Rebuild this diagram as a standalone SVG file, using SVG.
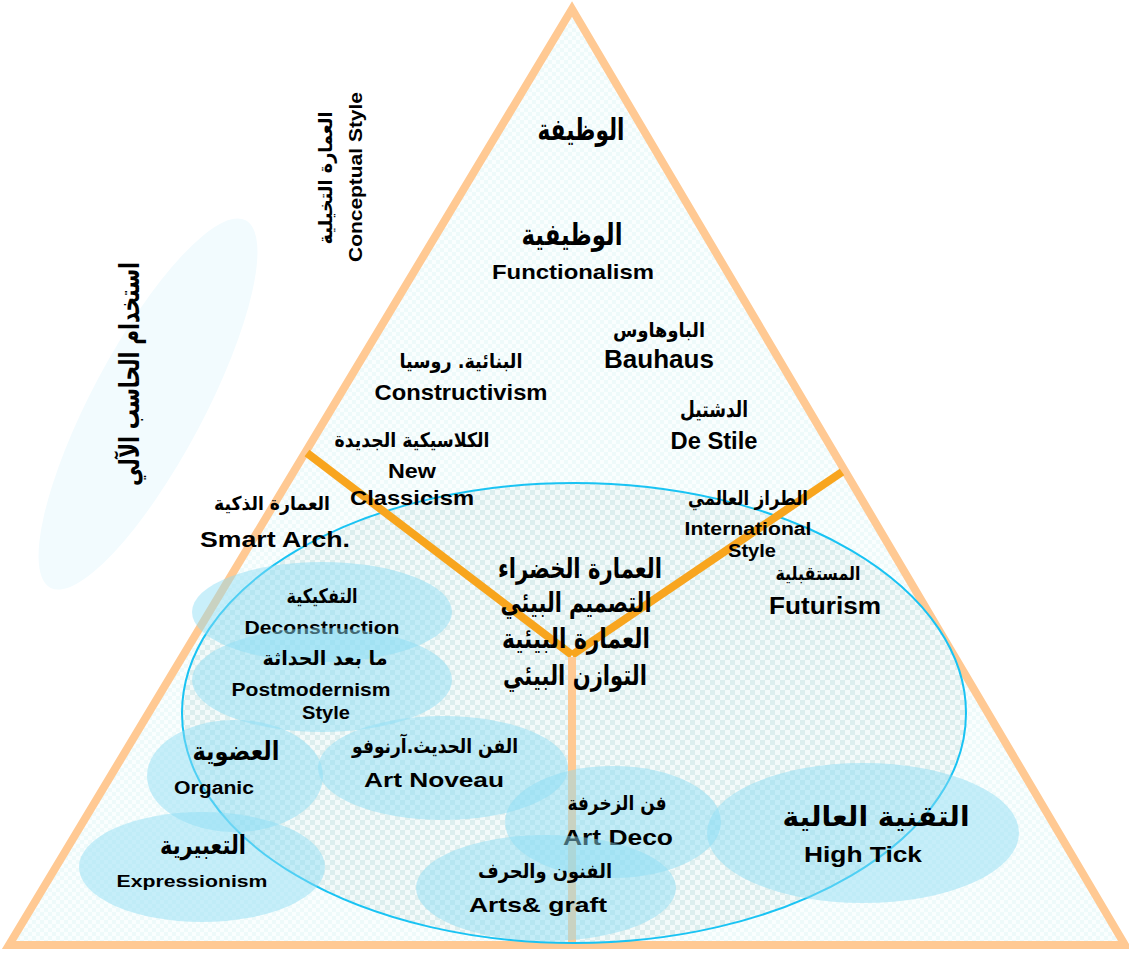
<svg xmlns="http://www.w3.org/2000/svg" width="1129" height="953" viewBox="0 0 1129 953">
<defs>
<pattern id="chkTri" width="8" height="8" patternUnits="userSpaceOnUse"><rect width="8" height="8" fill="#FAFEFE"/><rect width="4" height="4" fill="#EEFAFA"/><rect x="4" y="4" width="4" height="4" fill="#EEFAFA"/></pattern>
<pattern id="chkBig" width="10" height="10" patternUnits="userSpaceOnUse"><rect width="10" height="10" fill="#F3FAFA"/><rect width="5" height="5" fill="#DCEEEE"/><rect x="5" y="5" width="5" height="5" fill="#DCEEEE"/></pattern>
<style>
text{font-family:"Liberation Sans","DejaVu Sans",Arial,sans-serif;font-weight:bold;fill:#000;text-anchor:middle}
.bub{fill:#8CDCF5;fill-opacity:0.47;stroke:none}
.ar{font-family:"DejaVu Sans","Liberation Sans",sans-serif}
</style>
</defs>
<rect width="1129" height="953" fill="#FFFFFF"/>
<g id="computer-zone">
<ellipse cx="148" cy="404" rx="208" ry="56" transform="rotate(-62 148 404)" fill="#F2FBFE"/>
<text class="ar" transform="translate(139,374) rotate(-90)" font-size="28" textLength="224" lengthAdjust="spacingAndGlyphs">استخدام الحاسب الآلي</text>
</g>
<g id="triangle">
<polygon points="572,9 9,945 1125,945" fill="url(#chkTri)" stroke="#FFC993" stroke-width="8" stroke-linejoin="miter"/>
</g>
<g id="conceptual">
<text class="ar" transform="translate(332,178) rotate(-90)" font-size="19" textLength="133" lengthAdjust="spacingAndGlyphs">العمارة التخيلية</text>
<text transform="translate(362,177) rotate(-90)" font-size="18" textLength="170" lengthAdjust="spacingAndGlyphs">Conceptual Style</text>
</g>
<g id="green-arch-zone">
<ellipse cx="574" cy="713" rx="392" ry="230" fill="url(#chkBig)" stroke="#19C3F3" stroke-width="2"/>
</g>
<g id="connectors">
<line x1="307" y1="453" x2="572" y2="655" stroke="#F8A51E" stroke-width="8"/>
<line x1="842" y1="472" x2="572" y2="655" stroke="#F8A51E" stroke-width="8"/>
<line x1="572" y1="657" x2="572" y2="942" stroke="#FFC993" stroke-width="8"/>
</g>
<g id="function-top"><text class="ar" x="581" y="140" font-size="30" textLength="87" lengthAdjust="spacingAndGlyphs">الوظيفة</text></g>
<g id="functionalism">
<text class="ar" x="572" y="245" font-size="30" textLength="101" lengthAdjust="spacingAndGlyphs">الوظيفية</text>
<text x="573" y="279" font-size="21" textLength="162" lengthAdjust="spacingAndGlyphs">Functionalism</text>
</g>
<g id="bauhaus">
<text class="ar" x="659" y="337" font-size="20" textLength="92" lengthAdjust="spacingAndGlyphs">الباوهاوس</text>
<text x="659" y="368" font-size="25" textLength="110" lengthAdjust="spacingAndGlyphs">Bauhaus</text>
</g>
<g id="constructivism">
<text class="ar" x="461" y="368" font-size="20" textLength="123" lengthAdjust="spacingAndGlyphs">البنائية. روسيا</text>
<text x="461" y="400" font-size="22" textLength="173" lengthAdjust="spacingAndGlyphs">Constructivism</text>
</g>
<g id="destile">
<text class="ar" x="714" y="417" font-size="22" textLength="68" lengthAdjust="spacingAndGlyphs">الدشتيل</text>
<text x="714" y="449" font-size="23" textLength="87" lengthAdjust="spacingAndGlyphs">De Stile</text>
</g>
<g id="newclassicism">
<text class="ar" x="412" y="447" font-size="20" textLength="155" lengthAdjust="spacingAndGlyphs">الكلاسيكية الجديدة</text>
<text x="412" y="478" font-size="20" textLength="48" lengthAdjust="spacingAndGlyphs">New</text>
<text x="412" y="505" font-size="20" textLength="124" lengthAdjust="spacingAndGlyphs">Classicism</text>
</g>
<g id="smartarch">
<text class="ar" x="272" y="510" font-size="19" textLength="116" lengthAdjust="spacingAndGlyphs">العمارة الذكية</text>
<text x="275" y="547" font-size="22" textLength="150" lengthAdjust="spacingAndGlyphs">Smart Arch.</text>
</g>
<g id="international">
<text class="ar" x="748" y="505" font-size="20" textLength="120" lengthAdjust="spacingAndGlyphs">الطراز العالمي</text>
<text x="748" y="535" font-size="18" textLength="127" lengthAdjust="spacingAndGlyphs">International</text>
<text x="752" y="557" font-size="18" textLength="48" lengthAdjust="spacingAndGlyphs">Style</text>
</g>
<g id="futurism">
<text class="ar" x="818" y="580" font-size="19" textLength="85" lengthAdjust="spacingAndGlyphs">المستقبلية</text>
<text x="825" y="614" font-size="23" textLength="112" lengthAdjust="spacingAndGlyphs">Futurism</text>
</g>
<g id="green-arch">
<text class="ar" x="580" y="578" font-size="28" textLength="164" lengthAdjust="spacingAndGlyphs">العمارة الخضراء</text>
<text class="ar" x="576" y="612" font-size="28" textLength="151" lengthAdjust="spacingAndGlyphs">التصميم البيئي</text>
<text class="ar" x="576" y="648" font-size="28" textLength="148" lengthAdjust="spacingAndGlyphs">العمارة البيئية</text>
<text class="ar" x="575" y="685" font-size="28" textLength="144" lengthAdjust="spacingAndGlyphs">التوازن البيئي</text>
</g>
<g id="deconstruction">
<ellipse class="bub" cx="322" cy="612" rx="130" ry="50"/>
<text class="ar" x="322" y="603" font-size="20" textLength="71" lengthAdjust="spacingAndGlyphs">التفكيكية</text>
<text x="322" y="634" font-size="18" textLength="155" lengthAdjust="spacingAndGlyphs">Deconstruction</text>
</g>
<g id="postmodernism">
<ellipse class="bub" cx="322" cy="680" rx="130" ry="52"/>
<text class="ar" x="325" y="665" font-size="20" textLength="125" lengthAdjust="spacingAndGlyphs">ما بعد الحداثة</text>
<text x="311" y="696" font-size="18" textLength="159" lengthAdjust="spacingAndGlyphs">Postmodernism</text>
<text x="326" y="719" font-size="18" textLength="48" lengthAdjust="spacingAndGlyphs">Style</text>
</g>
<g id="organic">
<ellipse class="bub" cx="235" cy="776" rx="88" ry="56"/>
<text class="ar" x="236" y="760" font-size="26" textLength="87" lengthAdjust="spacingAndGlyphs">العضوية</text>
<text x="214" y="794" font-size="18" textLength="80" lengthAdjust="spacingAndGlyphs">Organic</text>
</g>
<g id="artnoveau">
<ellipse class="bub" cx="443" cy="768" rx="125" ry="52"/>
<text class="ar" x="435" y="753" font-size="20" textLength="166" lengthAdjust="spacingAndGlyphs">الفن الحديث.آرنوفو</text>
<text x="434" y="787" font-size="21" textLength="140" lengthAdjust="spacingAndGlyphs">Art Noveau</text>
</g>
<g id="expressionism">
<ellipse class="bub" cx="202" cy="867" rx="123" ry="55"/>
<text class="ar" x="203" y="854" font-size="26" textLength="86" lengthAdjust="spacingAndGlyphs">التعبيرية</text>
<text x="192" y="887" font-size="17" textLength="151" lengthAdjust="spacingAndGlyphs">Expressionism</text>
</g>
<g id="artdeco">
<ellipse class="bub" cx="613" cy="822" rx="108" ry="56"/>
<text class="ar" x="617" y="810" font-size="20" textLength="99" lengthAdjust="spacingAndGlyphs">فن الزخرفة</text>
<text x="618" y="845" font-size="22" textLength="110" lengthAdjust="spacingAndGlyphs">Art Deco</text>
</g>
<g id="artsgraft">
<ellipse class="bub" cx="546" cy="888" rx="130" ry="53"/>
<text class="ar" x="545" y="878" font-size="20" textLength="134" lengthAdjust="spacingAndGlyphs">الفنون والحرف</text>
<text x="538" y="912" font-size="21" textLength="138" lengthAdjust="spacingAndGlyphs">Arts&amp; graft</text>
</g>
<g id="hightech">
<ellipse class="bub" cx="863" cy="833" rx="156" ry="70" fill-opacity="0.38"/>
<text class="ar" x="876" y="826" font-size="28" textLength="187" lengthAdjust="spacingAndGlyphs">التقنية العالية</text>
<text x="863" y="862" font-size="22" textLength="118" lengthAdjust="spacingAndGlyphs">High Tick</text>
</g>
</svg>
